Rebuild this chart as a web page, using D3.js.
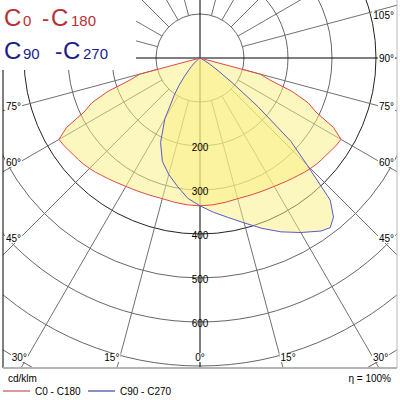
<!DOCTYPE html>
<html>
<head>
<meta charset="utf-8">
<script src="https://cdn.jsdelivr.net/npm/d3@7"></script>
<style>
  body { margin: 0; background: #fff; }
  text { font-family: "Liberation Sans", Arial, sans-serif; }
</style>
</head>
<body>
<div id="chart"></div>
<script>
// gamma angles (deg from nadir) and intensities in cd/klm
var gammaDeg = [0,5,10,15,20,25,30,35,37.5,40,42.5,45,47.5,50,52.5,55,57.5,60,62.5,65,67.5,70,72.5,75,77.5,80,85,90];
var c0c180  = [336,335,333,331,332,334,337,342,345,348,352,355,358,360,362,365,368,370,342,291,266,224,167,142,0,0,0,0];
var c90     = [336,352,368,388,412,436,458,480,486,472,438,345,280,172,92,50,28,14,5,0,0,0,0,0,0,0,0,0];
var c270    = [336,320,296,274,250,212,160,100,78,56,40,28,20,12,8,4,0,0,0,0,0,0,0,0,0,0,0,0];

var ringValues = [100,200,300,400,500,600,700,800];
var ringLabels = [200,300,400,500,600];
var rightAngleLabels = [15,30,45,60,75,90,105];
var leftAngleLabels = [15,30,45,60,75];

var width = 400, height = 400;
var cx = 200, cy = 58;
var frame = {left: 3, right: 397, top: 0, bottom: 368};

var svg = d3.select('#chart').append('svg')
  .attr('width', width)
  .attr('height', height);

svg.append('rect').attr('width', width).attr('height', height).attr('fill', '#fff');

svg.append('clipPath').attr('id', 'plotclip')
  .append('rect')
  .attr('x', frame.left).attr('y', frame.top)
  .attr('width', frame.right - frame.left)
  .attr('height', frame.bottom - frame.top);

var r = d3.scaleLinear().domain([0, 700]).range([0, 308]);
var rad = function(deg) { return deg * Math.PI / 180; };

var plot = svg.append('g').attr('clip-path', 'url(#plotclip)');
var g = plot.append('g').attr('transform', 'translate(' + cx + ',' + cy + ')');

// rings
g.selectAll('.ring')
  .data(ringValues)
  .enter().append('circle')
  .attr('class', 'ring')
  .attr('r', function(d) { return r(d); })
  .attr('fill', 'none')
  .attr('stroke', function(d) { return d == 400 ? '#222' : '#666'; })
  .attr('stroke-width', 1);

// radial lines every 15 deg
var spokes = d3.range(0, 360, 15).filter(function(a) { return a % 90 != 0; });
g.selectAll('.spoke')
  .data(spokes)
  .enter().append('line')
  .attr('class', 'spoke')
  .attr('x1', function(a) { return r(100) * Math.sin(rad(a)); })
  .attr('y1', function(a) { return r(100) * Math.cos(rad(a)); })
  .attr('x2', function(a) { return r(1000) * Math.sin(rad(a)); })
  .attr('y2', function(a) { return r(1000) * Math.cos(rad(a)); })
  .attr('stroke', '#707070')
  .attr('stroke-width', 1);

// axes through centre
g.append('line').attr('x1', 0).attr('y1', -200).attr('x2', 0).attr('y2', 400)
  .attr('stroke', '#000').attr('stroke-width', 1);
g.append('line').attr('x1', -300).attr('y1', 0).attr('x2', 300).attr('y2', 0)
  .attr('stroke', '#000').attr('stroke-width', 1);

// build curve points: left half (negative gamma) then right half
function buildCurve(leftVals, rightVals) {
  var pts = [];
  for (var i = gammaDeg.length - 1; i >= 0; i--) pts.push([-rad(gammaDeg[i]), leftVals[i]]);
  for (var j = 1; j < gammaDeg.length; j++) pts.push([rad(gammaDeg[j]), rightVals[j]]);
  // drop repeated centre points
  return pts.filter(function(p, k) { return !(p[1] == 0 && k > 0 && pts[k - 1][1] == 0); });
}

var line = d3.lineRadial()
  .angle(function(d) { return Math.PI - d[0]; })
  .radius(function(d) { return r(d[1]); })
  .curve(d3.curveLinearClosed);

var redPts = buildCurve(c0c180, c0c180);
var bluePts = buildCurve(c270, c90);

g.append('path').attr('d', line(redPts))
  .attr('fill', 'rgb(250,240,128)').attr('fill-opacity', 0.5).attr('stroke', 'none');
g.append('path').attr('d', line(bluePts))
  .attr('fill', 'rgb(250,240,128)').attr('fill-opacity', 0.5).attr('stroke', 'none');
g.append('path').attr('d', line(redPts))
  .attr('fill', 'none').attr('stroke', '#e04848').attr('stroke-width', 1);
g.append('path').attr('d', line(bluePts))
  .attr('fill', 'none').attr('stroke', '#5a5ac8').attr('stroke-width', 1);

// ring labels along the nadir
g.selectAll('.rlab')
  .data(ringLabels)
  .enter().append('text')
  .attr('class', 'rlab')
  .attr('x', 0)
  .attr('y', function(d) { return r(d) + 5; })
  .attr('text-anchor', 'middle')
  .attr('font-size', 10)
  .attr('fill', '#000')
  .text(function(d) { return d; });

// angle labels
function labelPos(a, side) {
  var t = Math.tan(rad(a));
  var bottomDy = 299, halfW = 180;
  if (a < 90 && bottomDy * t <= halfW) {
    return {x: cx + side * (bottomDy * t + 8), y: 357, anchor: 'middle'};
  }
  var y = a == 90 ? cy : cy + halfW / t;
  y = Math.max(y, 15);
  return side > 0 ? {x: 394, y: y, anchor: 'end'} : {x: 6, y: y, anchor: 'start'};
}

var angleLabs = [{a: 0, side: 1}];
rightAngleLabels.forEach(function(a) { angleLabs.push({a: a, side: 1}); });
leftAngleLabels.forEach(function(a) { angleLabs.push({a: a, side: -1}); });

var alab = svg.selectAll('.alab')
  .data(angleLabs)
  .enter().append('g')
  .attr('class', 'alab');
alab.each(function(d) {
  var p = d.a == 0 ? {x: cx, y: 357, anchor: 'middle'} : labelPos(d.a, d.side);
  var sel = d3.select(this);
  var bg = sel.append('rect').attr('fill', '#fff');
  var t = sel.append('text')
    .attr('x', p.x).attr('y', p.y + 4)
    .attr('text-anchor', p.anchor)
    .attr('font-size', 10)
    .text(d.a + '°');
  var bb = t.node().getBBox();
  bg.attr('x', bb.x - 1).attr('y', bb.y + 1).attr('width', bb.width + 2).attr('height', bb.height - 2);
});

// legend box top-left
svg.append('rect').attr('x', 0).attr('y', 0).attr('width', 136).attr('height', 70).attr('fill', '#fff');

function bigLegend(y, color, parts) {
  var t = svg.append('text').attr('y', y).attr('fill', color);
  parts.forEach(function(p) {
    t.append('tspan').attr('x', p[0]).attr('font-size', p[2]).text(p[1]);
  });
}
bigLegend(26, '#b83030', [[4, 'C', 24], [23, '0', 15], [42, '-', 22], [51, 'C', 24], [71, '180', 15]]);
bigLegend(59, '#1c1c8c', [[4, 'C', 24], [23, '90', 15], [55, '-', 22], [63, 'C', 24], [83, '270', 15]]);

// frame
svg.append('line').attr('x1', frame.left).attr('y1', 70).attr('x2', frame.left).attr('y2', frame.bottom)
  .attr('stroke', '#000').attr('stroke-width', 1);
svg.append('line').attr('x1', frame.right).attr('y1', 0).attr('x2', frame.right).attr('y2', frame.bottom)
  .attr('stroke', '#bbb').attr('stroke-width', 1);
svg.append('line').attr('x1', frame.left).attr('y1', frame.bottom).attr('x2', frame.right).attr('y2', frame.bottom)
  .attr('stroke', '#b4b4b4').attr('stroke-width', 2);

// bottom texts
svg.append('text').attr('x', 8).attr('y', 382).attr('font-size', 10).text('cd/klm');
svg.append('text').attr('x', 391).attr('y', 382).attr('font-size', 10).attr('text-anchor', 'end').text('η = 100%');

var legendItems = [
  {x: 3, label: 'C0 - C180', color: '#c0302c'},
  {x: 88, label: 'C90 - C270', color: '#1c1c8c'}
];
var li = svg.selectAll('.li').data(legendItems).enter().append('g').attr('class', 'li');
li.append('line')
  .attr('x1', function(d) { return d.x; }).attr('x2', function(d) { return d.x + 27; })
  .attr('y1', 391).attr('y2', 391)
  .attr('stroke', function(d) { return d.color; }).attr('stroke-width', 1);
li.append('text')
  .attr('x', function(d) { return d.x + 32; }).attr('y', 395)
  .attr('font-size', 10)
  .text(function(d) { return d.label; });
</script>
</body>
</html>
